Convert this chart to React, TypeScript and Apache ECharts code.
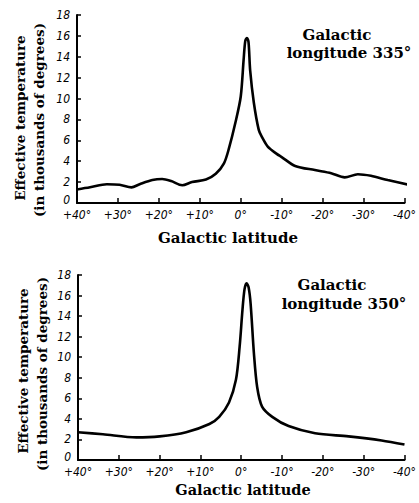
import React, { useEffect, useRef } from "react";
import * as echarts from "echarts";

// Galactic longitude 335°
const lat335 = [40, 36.8, 32.7, 29.6, 26.7, 24.7, 21.6, 19.2, 17, 14.3, 11.9, 8.5, 6.1, 4.1, 2.9, 1.3, 0, -0.7, -1.1, -1.5, -1.9, -2.3, -3.2, -4.4, -5.2, -6.6, -8.8, -10, -13.3, -18.1, -22.1, -25.4, -28.6, -31.8, -35.9, -41.5];
const temp335 = [1.3, 1.5, 1.8, 1.75, 1.5, 1.8, 2.2, 2.3, 2.1, 1.7, 2.0, 2.25, 2.8, 3.8, 5.2, 7.7, 10.2, 13.7, 15.5, 15.8, 15.4, 12.7, 9.6, 7.0, 6.3, 5.4, 4.7, 4.4, 3.55, 3.15, 2.85, 2.45, 2.75, 2.6, 2.2, 1.7];

// Galactic longitude 350°
const lat350 = [40, 33.9, 25.7, 20, 13.5, 7.8, 5.4, 3, 1.3, 0.4, -0.3, -0.8, -1.3, -1.8, -2.3, -3.1, -3.9, -5.1, -7.6, -11.6, -18.1, -26.3, -34.4, -40];
const temp350 = [2.7, 2.5, 2.2, 2.3, 2.7, 3.5, 4.2, 5.6, 7.8, 11.0, 14.6, 16.6, 17.2, 16.8, 15.2, 10.4, 7.1, 5.2, 4.2, 3.3, 2.6, 2.3, 1.9, 1.5];

const yTicks = [0, 2, 4, 6, 8, 10, 12, 14, 16, 18];
const xTicks = [40, 30, 20, 10, 0, -10, -20, -30, -40];

const yTitle1 = "Effective temperature";
const yTitle2 = "(in thousands of degrees)";
const xTitle = "Galactic latitude";

const serif = "'DejaVu Serif', 'Liberation Serif', serif";
const tickFont = "'DejaVu Sans Condensed', 'DejaVu Sans', sans-serif";

function fmtX(v: number) {
  if (v > 0) return "+" + v + "°";
  return v + "°";
}

export default function App() {
  const ref = useRef<HTMLDivElement>(null);
  useEffect(() => {
    if (!ref.current) return;
    const chart = echarts.init(ref.current, undefined, { renderer: "svg" });
    const axisLine = { show: true, onZero: false, lineStyle: { color: "#000", width: 2 } };
    const mkX = (gi: number) => ({
      type: "value" as const,
      gridIndex: gi,
      min: -40,
      max: 40,
      interval: 10,
      inverse: true,
      axisLine,
      axisTick: { show: true, inside: true, length: 5, lineStyle: { color: "#000", width: 1.5 } },
      splitLine: { show: false },
      axisLabel: {
        formatter: (v: number) => (xTicks.includes(v) ? fmtX(v) : ""),
        color: "#000",
        fontFamily: tickFont,
        fontStyle: "italic",
        fontSize: 12,
        lineHeight: 11,
        margin: 6,
      },
    });
    const mkY = (gi: number) => ({
      type: "value" as const,
      gridIndex: gi,
      min: 0,
      max: 18,
      interval: 2,
      axisLine,
      axisTick: { show: true, inside: true, length: 4, lineStyle: { color: "#000", width: 1.5 } },
      splitLine: { show: false },
      axisLabel: {
        formatter: (v: number) =>
          yTicks.includes(v) ? (v === 0 ? "{z|0}" : String(v)) : "",
        color: "#000",
        fontFamily: tickFont,
        fontStyle: "italic",
        fontSize: 12,
        lineHeight: 9,
        margin: 7,
        rich: {
          z: {
            color: "#000",
            fontFamily: tickFont,
            fontStyle: "italic",
            fontSize: 12,
            lineHeight: 9,
            padding: [0, 0, 7, 0],
          },
        },
      },
    });
    const txt = (x: number, y: number, text: string, size: number, rot = 0) => ({
      type: "text" as const,
      x,
      y,
      rotation: rot,
      style: {
        text,
        fill: "#000",
        font: `bold ${size}px ${serif}`,
        textAlign: "center",
        textVerticalAlign: "middle",
      },
    });
    const lineStyle = { color: "#000", width: 2.6 };
    chart.setOption({
      animation: false,
      backgroundColor: "#fff",
      grid: [
        { left: 77, top: 15, width: 330, height: 188 },
        { left: 78, top: 275, width: 328, height: 185 },
      ],
      xAxis: [mkX(0), mkX(1)],
      yAxis: [mkY(0), mkY(1)],
      series: [
        {
          type: "line",
          xAxisIndex: 0,
          yAxisIndex: 0,
          data: lat335.map((x, i) => [x, temp335[i]]),
          showSymbol: false,
          smooth: 0.3,
          clip: false,
          lineStyle,
        },
        {
          type: "line",
          xAxisIndex: 1,
          yAxisIndex: 1,
          data: lat350.map((x, i) => [x, temp350[i]]),
          showSymbol: false,
          smooth: 0.3,
          clip: false,
          lineStyle,
        },
      ],
      graphic: [
        txt(20, 118, yTitle1, 13.5, Math.PI / 2),
        txt(39, 120, yTitle2, 13.5, Math.PI / 2),
        txt(337, 35, "Galactic", 15),
        txt(349, 53, "longitude 335°", 15),
        txt(228, 238, xTitle, 15),
        txt(23, 371, yTitle1, 13.5, Math.PI / 2),
        txt(42, 374, yTitle2, 13.5, Math.PI / 2),
        txt(332, 285, "Galactic", 15),
        txt(344, 304, "longitude 350°", 15),
        txt(243, 489, xTitle, 14.5),
      ],
    });
    return () => chart.dispose();
  }, []);
  return (
    <div
      ref={ref}
      style={{ position: "fixed", left: 0, top: 0, width: 419, height: 503, background: "#fff" }}
    />
  );
}
